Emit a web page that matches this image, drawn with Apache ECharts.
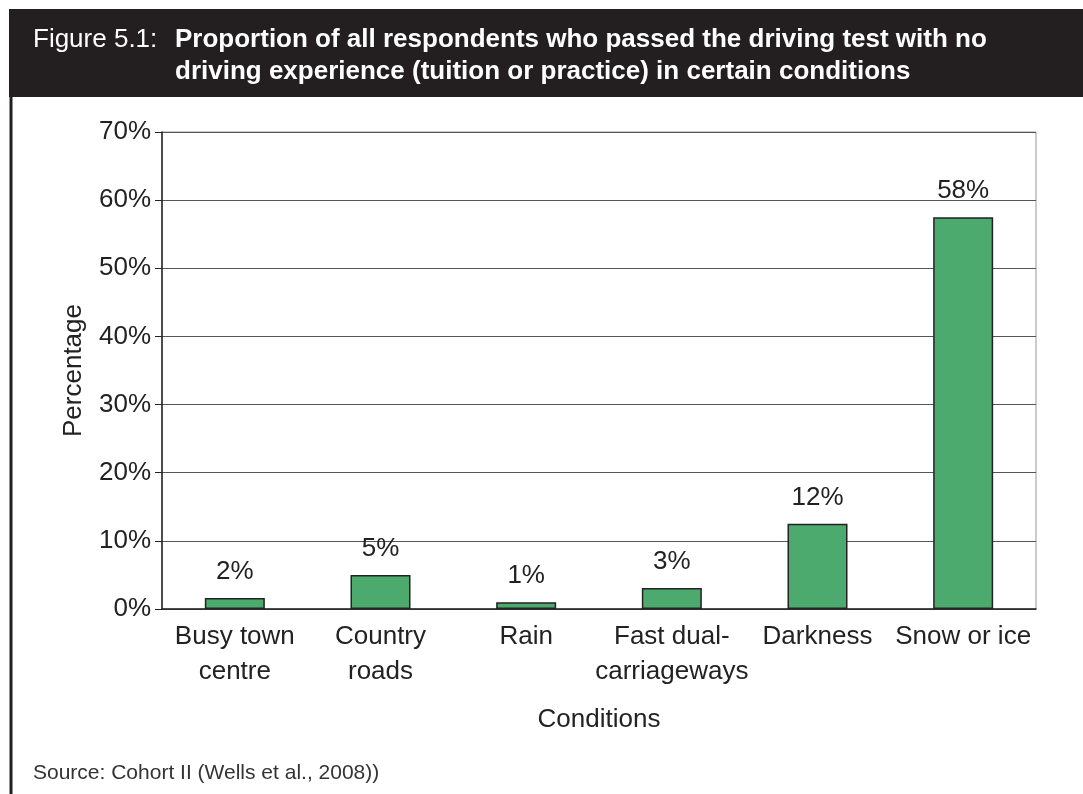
<!DOCTYPE html>
<html>
<head>
<meta charset="utf-8">
<script src="https://cdn.jsdelivr.net/npm/echarts@6/dist/echarts.min.js"></script>
<style>
html,body{margin:0;padding:0;background:#fff;}
#chart{width:1083px;height:794px;}
</style>
</head>
<body>
<div id="chart"></div>
<script>
const categories = ['Busy town\ncentre', 'Country\nroads', 'Rain', 'Fast dual-\ncarriageways', 'Darkness', 'Snow or ice'];
const values = [1.6, 5.0, 1.0, 3.1, 12.5, 57.5];
const labels = ['2%', '5%', '1%', '3%', '12%', '58%'];
const titleLabel = 'Figure 5.1:';
const titleLine1 = 'Proportion of all respondents who passed the driving test with no';
const titleLine2 = 'driving experience (tuition or practice) in certain conditions';
const sourceText = 'Source: Cohort II (Wells et al., 2008))';

const chart = echarts.init(document.getElementById('chart'), null, {renderer: 'canvas'});
const font = '"Liberation Sans", Arial, Helvetica, sans-serif';
const fs = 26;
chart.setOption({
  animation: false,
  textStyle: {fontFamily: font},
  grid: {left: 162, right: 47, top: 132, bottom: 185, show: true, borderColor: '#999', borderWidth: 1},
  graphic: [
    {type: 'rect', shape: {x: 9, y: 9, width: 1074, height: 88}, style: {fill: '#231f20'}, z: 0},
    {type: 'line', shape: {x1: 11, y1: 97, x2: 11, y2: 794}, style: {stroke: '#231f20', lineWidth: 3}},
    {type: 'text', style: {x: 33, y: 40, verticalAlign: 'middle', text: titleLabel, fill: '#fff', font: '26px ' + font}},
    {type: 'text', style: {x: 175, y: 40, verticalAlign: 'middle', text: titleLine1, fill: '#fff', font: 'bold 26px ' + font}},
    {type: 'text', style: {x: 175, y: 72, verticalAlign: 'middle', text: titleLine2, fill: '#fff', font: 'bold 26px ' + font}},
    {type: 'text', style: {x: 33, y: 773, verticalAlign: 'middle', text: sourceText, fill: '#333', font: '21px ' + font}}
  ],
  xAxis: {
    type: 'category',
    data: categories,
    name: 'Conditions',
    nameLocation: 'middle',
    nameGap: 98,
    nameTextStyle: {fontSize: fs, color: '#222'},
    axisLine: {lineStyle: {color: '#222', width: 1.5}},
    axisTick: {length: 7, lineStyle: {color: '#222'}},
    axisLabel: {fontSize: fs, color: '#222', lineHeight: 35, margin: 10, interval: 0}
  },
  yAxis: {
    type: 'value',
    min: 0, max: 70, interval: 10,
    name: 'Percentage',
    nameLocation: 'middle',
    nameGap: 75,
    nameTextStyle: {fontSize: fs, color: '#222'},
    axisLine: {show: true, lineStyle: {color: '#222', width: 1.5}},
    axisTick: {show: true, length: 7, lineStyle: {color: '#222'}},
    axisLabel: {fontSize: fs, color: '#222', formatter: '{value}%', margin: 11},
    splitLine: {lineStyle: {color: '#555', width: 1}}
  },
  series: [{
    type: 'bar',
    data: values,
    barWidth: 60,
    itemStyle: {color: '#4daa6f', borderColor: '#222', borderWidth: 1.5},
    label: {
      show: true, position: 'top', distance: 13,
      fontSize: fs, color: '#222',
      formatter: p => labels[p.dataIndex]
    }
  }]
});
</script>
</body>
</html>
